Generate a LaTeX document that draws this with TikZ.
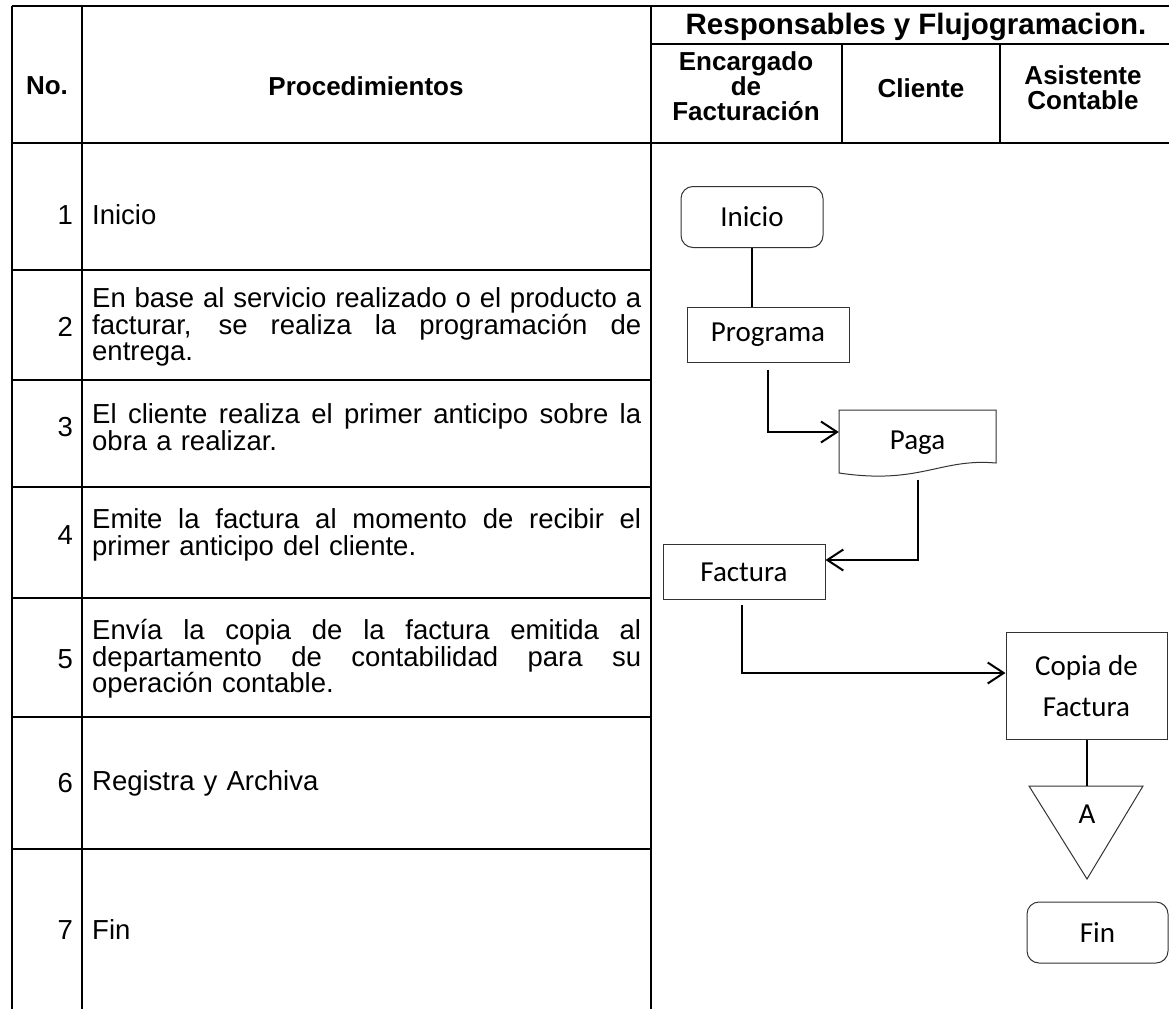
\documentclass[tikz,border=0pt]{standalone}
\usepackage{fontspec}
\setmainfont{Liberation Sans}
\newfontfamily\calibrifont{Carlito}
\usetikzlibrary{arrows.meta}
% a justified line of the procedure column
\newcommand\jline[1]{\leavevmode\hbox to 549pt{\spaceskip=0.28em plus 1fil\relax #1}}
\begin{document}
\begin{tikzpicture}[x=1pt,y=-1pt,
  grid/.style={line width=2pt},
  rowline/.style={line width=1.5pt},
  head/.style={font=\fontsize{26}{25}\selectfont\bfseries, align=center, inner sep=0pt},
  num/.style={font=\fontsize{27.5}{26.5}\selectfont, anchor=east, inner sep=0pt},
  proc/.style={font=\fontsize{27.5}{26.5}\selectfont, anchor=west, inner sep=0pt, text width=549pt, align=left},
  flow/.style={draw=black!80, line width=1pt, font=\fontsize{29}{41}\selectfont\calibrifont, inner sep=0pt, align=center},
  term/.style={flow, rounded corners=12pt},
  conn/.style={line width=2pt},
  arr/.style={conn, -{Straight Barb[length=16pt,width=21pt]}},
]
\fill[white] (0,0) rectangle (1169,1009);
\useasboundingbox (0,0) rectangle (1169,1009);

% table frame
\draw[grid] (12,6) -- (1169,6);
\draw[grid] (12,6) -- (12,1009);
\draw[grid] (82,6) -- (82,1009);
\draw[grid] (651,6) -- (651,1009);
\draw[grid] (651,44) -- (1169,44);
\draw[grid] (12,143) -- (1169,143);
\draw[grid] (842,44) -- (842,143);
\draw[grid] (1000,44) -- (1000,143);
\foreach \y in {270,380,487,598,717,849}
  \draw[rowline] (12,\y) -- (651,\y);

% header
\node[head] (hno) at (47,86) {No.};
\node[head] (hproc) at (366,86) {Procedimientos};
\node[head, font=\fontsize{29.5}{25}\selectfont\bfseries] (hresp) at (916,27) {Responsables y Flujogramacion.};
\node[head] (henc) at (746,86) {Encargado\\de\\Facturación};
\node[head] (hcli) at (921,88) {Cliente};
\node[head] (hasi) at (1083,88) {Asistente\\Contable};

% procedure rows
\node[num] (n1) at (73,215) {1};
\node[proc] (p1) at (92,215) {Inicio};
\node[num] (n2) at (73,327) {2};
\node[proc] (p2) at (92,327) {\jline{En base al servicio realizado o el producto a}\\
  \jline{facturar, se realiza la programación de}\\entrega.};
\node[num] (n3) at (73,427) {3};
\node[proc] (p3) at (92,427) {\jline{El cliente realiza el primer anticipo sobre la}\\obra a realizar.};
\node[num] (n4) at (73,535) {4};
\node[proc] (p4) at (92,535) {\jline{Emite la factura al momento de recibir el}\\primer anticipo del cliente.};
\node[num] (n5) at (73,659) {5};
\node[proc] (p5) at (92,659) {\jline{Envía la copia de la factura emitida al}\\
  \jline{departamento de contabilidad para su}\\operación contable.};
\node[num] (n6) at (73,783) {6};
\node[proc] (p6) at (92,783) {Registra y Archiva};
\node[num] (n7) at (73,930) {7};
\node[proc] (p7) at (92,930) {Fin};

% flowchart symbols
\node[term, minimum width=142pt, minimum height=61pt] (ini) at (752,217) {Inicio};
\node[flow, minimum width=162pt, minimum height=55pt] (prog) at (768,334.5) {Programa};
\node[inner sep=0pt, minimum width=157pt, minimum height=67pt, font=\fontsize{29}{41}\selectfont\calibrifont] (paga) at (917.5,443) {Paga};
\draw[draw=black!80, line width=1pt] (839,410) -- (996,410) -- (996,463)
  .. controls (940,458) and (920,485) .. (839,473) -- cycle;
\node[flow, minimum width=162pt, minimum height=55pt] (fact) at (744,572) {Factura};
\node[flow, minimum width=161pt, minimum height=107pt] (copia) at (1086.5,686) {Copia de\\Factura};
\coordinate (tritop) at (1087,786);
\draw[draw=black!80, line width=1pt] (1029,786) -- (1143,786) -- (1087,879) -- cycle;
\node[font=\fontsize{29}{41}\selectfont\calibrifont, inner sep=0pt] (conA) at (1087,814) {A};
\node[term, minimum width=141pt, minimum height=61pt] (fin) at (1097.5,932.5) {Fin};

% connectors
\draw[conn] (ini.south) -- (ini.south |- prog.north);
\draw[arr, shorten <=7pt] (prog.south) |- ([yshift=11pt]paga.west);
\draw[arr, shorten <=3pt] (paga.south) |- ([yshift=12pt]fact.east);
\draw[arr, shorten <=5pt] ([xshift=-2pt]fact.south) |- ([yshift=13pt]copia.west);
\draw[conn] (copia.south) -- (copia.south |- tritop);
\end{tikzpicture}
\end{document}
